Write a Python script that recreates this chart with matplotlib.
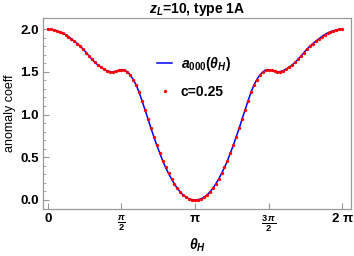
import numpy as np
import matplotlib
matplotlib.use('Agg')
import matplotlib.pyplot as plt

plt.rcParams['font.family'] = ['Liberation Sans', 'DejaVu Sans']
plt.rcParams['mathtext.fontset'] = 'custom'
plt.rcParams['mathtext.rm'] = 'Liberation Sans:bold'
plt.rcParams['mathtext.it'] = 'Liberation Sans:bold:italic'
plt.rcParams['mathtext.bf'] = 'Liberation Sans:bold'

# theta_H in units of pi
t_left = [0.00, 0.02, 0.04, 0.06, 0.08, 0.10, 0.12, 0.14, 0.16, 0.18,
          0.20, 0.22, 0.24, 0.26, 0.28, 0.30, 0.32, 0.34, 0.36, 0.38,
          0.40, 0.42, 0.44, 0.46, 0.48, 0.50, 0.52, 0.54, 0.56, 0.58,
          0.60, 0.62, 0.64, 0.66, 0.68, 0.70, 0.72, 0.74, 0.76, 0.78,
          0.80, 0.82, 0.84, 0.86, 0.88, 0.90, 0.92, 0.94, 0.96, 0.98, 1.00]
a_left = [2.000, 1.997, 1.990, 1.982, 1.970, 1.954, 1.935, 1.912, 1.885, 1.858,
          1.830, 1.800, 1.765, 1.726, 1.685, 1.646, 1.610, 1.580, 1.555, 1.533,
          1.515, 1.503, 1.500, 1.506, 1.516, 1.525, 1.522, 1.500, 1.462, 1.410,
          1.345, 1.260, 1.160, 1.055, 0.950, 0.840, 0.740, 0.640, 0.550, 0.460,
          0.380, 0.310, 0.245, 0.185, 0.135, 0.092, 0.057, 0.030, 0.013, 0.003, 0.000]

# the chart is symmetric about pi
t_all = np.array(t_left + [2 - t for t in t_left[-2::-1]])
a_all = np.array(a_left + a_left[-2::-1])
theta = t_all * np.pi

fig = plt.figure(figsize=(3.54, 2.56), dpi=100)
ax = fig.add_axes([0.121, 0.184, 0.871, 0.744])

ax.plot(theta, a_all, color='#0000ff', lw=1.1, label=r'$a_{\mathrm{000}}(\theta_H)$', zorder=2)
ax.plot(theta, a_all, 'o', color='#ff0000', ms=2.4, mew=0, label='c=0.25', zorder=3)

ax.set_xlim(-0.107, 2 * np.pi + 0.19)
ax.set_ylim(-0.105, 2.125)

ax.set_xticks(np.arange(5) * np.pi / 2)
ax.set_xticklabels(['0', r'$\frac{\pi}{2}$', 'π', r'$\frac{3\,\pi}{2}$', '2 π'],
                   fontsize=9.5, fontweight='bold')
ax.set_yticks([0, 0.5, 1.0, 1.5, 2.0])
ax.set_yticklabels(['0.0', '0.5', '1.0', '1.5', '2.0'], fontsize=9.5, fontweight='bold')
ax.set_yticks(np.arange(0, 2.01, 0.1), minor=True)
ax.tick_params(axis='both', which='major', direction='in', length=4, width=0.8,
               color='#999999', pad=3)
ax.tick_params(axis='y', which='minor', direction='in', length=2, width=0.6, color='#999999')
for s in ax.spines.values():
    s.set_color('#999999')
    s.set_linewidth(0.9)

ax.set_title(r'$z_L$=10, type 1A', fontsize=10, fontweight='bold', pad=3)
ax.set_ylabel('anomaly coeff', fontsize=9, labelpad=3)
ax.set_xlabel(r'$\theta_H$', fontsize=10, labelpad=2)

leg = ax.legend(loc='upper left', bbox_to_anchor=(0.33, 0.875), frameon=False,
                prop={'size': 10, 'weight': 'bold'}, handlelength=1.1,
                labelspacing=0.9, handletextpad=0.6)

fig.savefig('out.png', dpi=100)
